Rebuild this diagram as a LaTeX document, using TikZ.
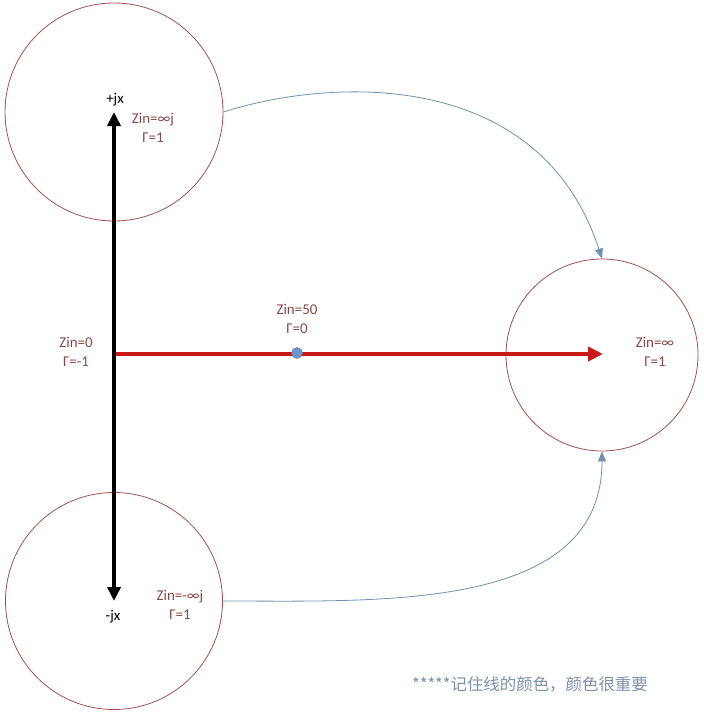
\documentclass[tikz,border=0pt]{standalone}
\usepackage{fontspec}
\setmainfont{Carlito}
\newfontfamily\cjk{Noto Sans CJK SC}
\usetikzlibrary{arrows.meta}
\definecolor{circ}{RGB}{165,80,80}
\definecolor{lbl}{RGB}{140,70,70}
\definecolor{connc}{RGB}{110,145,175}
\definecolor{redline}{RGB}{200,25,25}
\definecolor{dotc}{RGB}{110,150,205}
\definecolor{notec}{RGB}{125,145,170}
\begin{document}
\begin{tikzpicture}[x=1bp,y=-1bp,
 ring/.style={circle,draw=circ,line width=0.8bp,inner sep=0,minimum size=#1},
 lab/.style={text=lbl,font=\fontsize{15}{19}\selectfont,align=center,inner sep=0},
 axlab/.style={text=black,font=\fontsize{15}{17}\selectfont,inner sep=0},
 connector/.style={draw=connc,line width=0.8bp,-{Triangle[length=10bp,width=8bp]}}]
\useasboundingbox (0,0) rectangle (704,719);
\node[ring=218bp] (top) at (114,112) {};
\node[ring=217bp] (bot) at (114,601) {};
\node[ring=192bp] (rt) at (602,355) {};
\coordinate (up) at (114,112);
\coordinate (dn) at (114,601);
\coordinate (org) at (114,354);
\coordinate (tip) at (603,354);
\draw[redline,line width=4bp,-{Triangle[length=15bp,width=14bp]}] (org) -- (tip);
\draw[black,line width=3.5bp,{Triangle[length=14bp,width=13bp]}-{Triangle[length=14bp,width=13bp]}] (up) -- (dn);
\node[circle,fill=dotc,draw=dotc!80!black,line width=0.4bp,minimum size=11bp,inner sep=0] (mid) at (297,353) {};
\draw[connector] (top.east) .. controls +(110,-35) and +(-62,-190) .. (rt.north);
\draw[connector] (bot.east) .. controls +(160,0) and +(0,160) .. (rt.south);
\node[axlab] (pj) at (115,100) {+jx};
\node[axlab] (mj) at (113,617) {-jx};
\node[lab] (ztop) at (153,127.5) {Zin=∞j\\Γ=1};
\node[lab] (zzero) at (76,351.5) {Zin=0\\Γ=-1};
\node[lab] (zfifty) at (297,318.5) {Zin=50\\Γ=0};
\node[lab] (zinf) at (655,352) {Zin=∞\\Γ=1};
\node[lab] (zbot) at (180,604.5) {Zin=-∞j\\Γ=1};
\node[anchor=west,inner sep=0,text=notec,font=\cjk\fontsize{16.5}{19}\selectfont] (note) at (412,684) {*****记住线的颜色，颜色很重要};
\end{tikzpicture}
\end{document}
